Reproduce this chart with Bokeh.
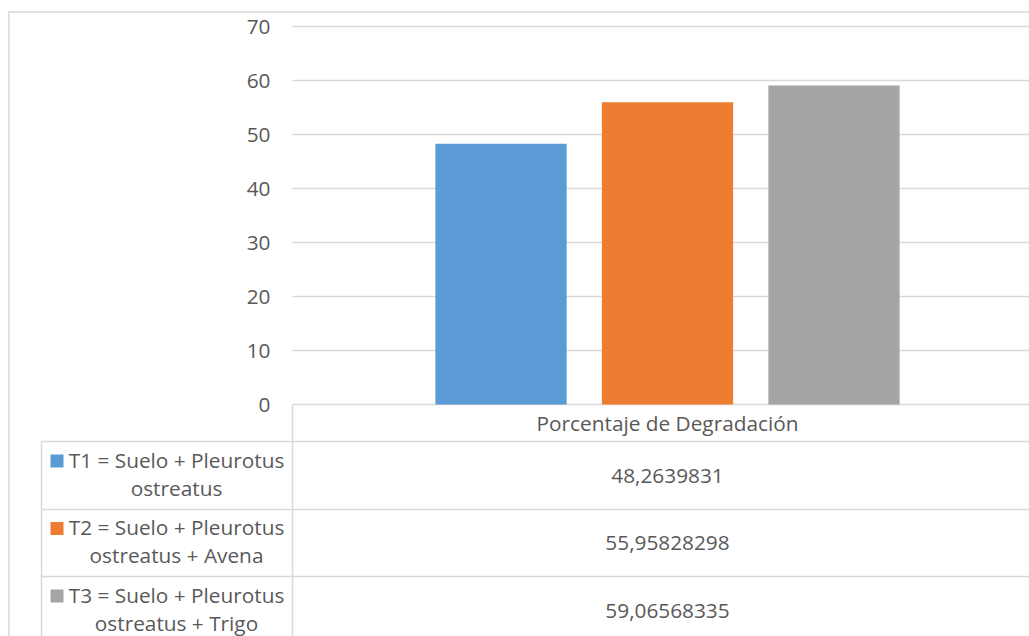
from bokeh.plotting import figure
from bokeh.models import Range1d
from bokeh.core.properties import value
from bokeh.embed import file_html
from bokeh.resources import INLINE

# ---- data ----
category = "Porcentaje de Degradación"
series_names = [
    ["T1 = Suelo + Pleurotus", "ostreatus"],
    ["T2 = Suelo + Pleurotus", "ostreatus + Avena"],
    ["T3 = Suelo + Pleurotus", "ostreatus + Trigo"],
]
series_values = [48.2639831, 55.95828298, 59.06568335]
value_labels = ["48,2639831", "55,95828298", "59,06568335"]
y_ticks = [0, 10, 20, 30, 40, 50, 60, 70]

# ---- style ----
colors = ["#5B9BD5", "#ED7D31", "#A5A5A5"]
text_color = "#595959"
line_color = "#D9D9D9"
FONT = value("Open Sans")
FONT_SIZE = value("20.8px")

W, H = 1029, 636
# layout of the chart area in page pixels
cat_left_px, cat_width_px = 292, 750      # category band of the plot area
zero_px, px_per_unit = 404, 5.4            # baseline position and vertical scale
table_left_px = 41
row_tops_px = [441, 509, 576, 644]
header_mid_px = 422

p = figure(width=W, height=H, output_backend="svg", toolbar_location=None,
           min_border=0, min_border_left=0, min_border_right=0,
           min_border_top=0, min_border_bottom=0,
           x_range=Range1d(-cat_left_px / cat_width_px, (W - cat_left_px) / cat_width_px),
           y_range=Range1d(-(H - zero_px) / px_per_unit, zero_px / px_per_unit))
p.axis.visible = False
p.grid.visible = False
p.outline_line_color = None
p.background_fill_color = "white"
p.border_fill_color = "white"
p.extra_x_ranges = {"px": Range1d(0, W)}
p.extra_y_ranges = {"px": Range1d(H, 0)}

# horizontal gridlines across the plot area
x_end = (W - cat_left_px) / cat_width_px + 0.1
p.segment(x0=[0] * len(y_ticks), x1=[x_end] * len(y_ticks), y0=y_ticks, y1=y_ticks,
          line_color=line_color, line_width=1.3)

# y tick labels
p.text(x=[270] * len(y_ticks), y=y_ticks, text=[str(t) for t in y_ticks],
       x_range_name="px", text_align="right", text_baseline="middle",
       text_font=FONT, text_font_size=FONT_SIZE, text_color=text_color)

# clustered bars, one per series
step, bar_w = 0.222, 0.175
centers = [0.5 + (i - 1) * step for i in range(len(series_values))]
p.vbar(x=centers, top=series_values, bottom=0, width=bar_w, fill_color=colors,
       line_color=None)

# ---- data table ----
def hline(x0, x1, y):
    p.segment(x0=[x0], x1=[x1], y0=[y], y1=[y], x_range_name="px", y_range_name="px",
              line_color=line_color, line_width=1.5)

def vline(x, y0, y1):
    p.segment(x0=[x], x1=[x], y0=[y0], y1=[y1], x_range_name="px", y_range_name="px",
              line_color=line_color, line_width=1.5)

# outer chart border
hline(8, W + 5, 11.5)
vline(8.5, 11, H + 5)

vline(cat_left_px, zero_px, H + 5)
vline(table_left_px, row_tops_px[0], H + 5)
for y in row_tops_px[:3]:
    hline(table_left_px, W + 5, y)

cat_center_px = cat_left_px + cat_width_px / 2
p.text(x=[cat_center_px], y=[header_mid_px], text=[category], x_range_name="px",
       y_range_name="px", text_align="center", text_baseline="middle",
       text_font=FONT, text_font_size=FONT_SIZE, text_color=text_color)

row_mids = [(row_tops_px[i] + row_tops_px[i + 1]) / 2 for i in range(3)]
p.text(x=[cat_center_px] * 3, y=row_mids, text=value_labels, x_range_name="px",
       y_range_name="px", text_align="center", text_baseline="middle",
       text_font=FONT, text_font_size=FONT_SIZE, text_color=text_color)

# row headers: legend key + two-line series name
label_center_px = 176
for i, (name, mid) in enumerate(zip(series_names, row_mids)):
    y1, y2 = mid - 16, mid + 12
    p.text(x=[label_center_px, label_center_px], y=[y1, y2], text=name,
           x_range_name="px", y_range_name="px", text_align="center",
           text_baseline="middle", text_font=FONT, text_font_size=FONT_SIZE,
           text_color=text_color)
    p.rect(x=[56.5], y=[y1 + 1.5], width=13, height=13, x_range_name="px",
           y_range_name="px", fill_color=colors[i], line_color=None)

open("out.html", "w").write(file_html(p, INLINE))
